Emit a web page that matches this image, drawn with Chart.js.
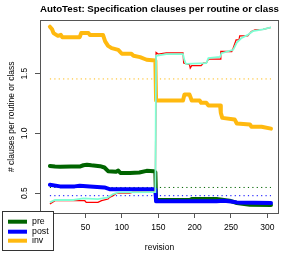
<!DOCTYPE html>
<html lang="en">
<head>
  <meta charset="UTF-8" />
  <title>AutoTest: Specification clauses per routine or class</title>
  <style>
    body { margin: 0; background: #ffffff; }
    canvas { display: block; }
  </style>
</head>
<body>
  <canvas id="chart" width="294" height="254"></canvas>

  <script src="https://cdn.jsdelivr.net/npm/chart.js"></script>
  <script>
    // values (revision, clauses per routine or class)
    const preRev = [1, 8, 15, 30, 42, 47, 52, 58, 70, 76, 81, 92, 95, 98, 111, 124, 134, 144, 146, 147, 193, 196, 230, 248, 258, 276, 305];
    const preVal = [0.727, 0.722, 0.72, 0.722, 0.722, 0.733, 0.738, 0.733, 0.725, 0.714, 0.683, 0.678, 0.688, 0.668, 0.668, 0.672, 0.686, 0.682, 0.675, 0.442, 0.442, 0.45, 0.45, 0.436, 0.417, 0.403, 0.40];

    const postRev = [1, 15, 35, 42, 56, 76, 83, 143, 146, 147, 230, 240, 250, 258, 305];
    const postVal = [0.569, 0.556, 0.556, 0.561, 0.556, 0.547, 0.533, 0.533, 0.531, 0.431, 0.431, 0.436, 0.43, 0.422, 0.417];

    const invRev = [1, 4, 6, 12, 16, 18, 42, 44, 54, 56, 74, 77, 81, 86, 95, 100, 113, 116, 125, 134, 146, 147, 184, 186, 193, 196, 207, 209, 216, 219, 235, 236, 238, 255, 258, 276, 278, 292, 305];
    const invVal = [1.894, 1.872, 1.84, 1.817, 1.825, 1.806, 1.806, 1.84, 1.84, 1.825, 1.825, 1.77, 1.733, 1.714, 1.70, 1.667, 1.667, 1.65, 1.639, 1.617, 1.61, 1.275, 1.275, 1.325, 1.325, 1.275, 1.275, 1.256, 1.256, 1.233, 1.233, 1.172, 1.13, 1.117, 1.083, 1.075, 1.056, 1.056, 1.04];

    const redRev = [1, 8, 49, 51, 67, 72, 81, 83, 88, 93, 111, 115, 143, 146, 147, 150, 161, 184, 185, 193, 194, 196, 209, 212, 216, 219, 235, 236, 251, 253, 257, 261, 262, 273, 278, 283, 294, 305];
    const redVal = [0.408, 0.436, 0.436, 0.422, 0.422, 0.436, 0.45, 0.464, 0.478, 0.50, 0.50, 0.508, 0.508, 0.519, 1.678, 1.664, 1.675, 1.675, 1.589, 1.575, 1.547, 1.567, 1.567, 1.589, 1.589, 1.622, 1.622, 1.686, 1.686, 1.714, 1.783, 1.783, 1.817, 1.817, 1.853, 1.867, 1.872, 1.889];

    const aquaRev = [1, 8, 33, 47, 67, 81, 88, 95, 143, 146, 147, 161, 184, 186, 188, 216, 219, 235, 237, 253, 258, 264, 273, 280, 294, 305];
    const aquaVal = [0.422, 0.442, 0.442, 0.456, 0.45, 0.464, 0.492, 0.506, 0.508, 0.508, 1.65, 1.664, 1.664, 1.611, 1.583, 1.589, 1.631, 1.64, 1.672, 1.70, 1.761, 1.797, 1.825, 1.856, 1.872, 1.889];

    // dotted reference levels
    const meanRev = [1, 305];
    const preMean = 0.547;
    const postMean = 0.478;
    const invMean = 1.456;

    const xTicks = [0, 50, 100, 150, 200, 250, 300];
    const yTicks = [0.5, 1.0, 1.5];

    const legendNames = ['pre', 'post', 'inv'];
    const legendColors = ['#006400', '#0000ff', '#ffb90f'];

    function pts(xs, ys) {
      return xs.map((x, i) => ({ x: x, y: ys[i] }));
    }
    function flat(v) {
      return meanRev.map(x => ({ x: x, y: v }));
    }

    Chart.defaults.font.family = "'Liberation Sans', Arial, sans-serif";
    Chart.defaults.color = '#000';

    const thick = { borderWidth: 4, pointRadius: 0, tension: 0, borderCapStyle: 'round', borderJoinStyle: 'round', fill: false };
    const dotted = { borderWidth: 1, pointRadius: 0, borderDash: [1.2, 3.2], fill: false };

    // R-style box plus legend drawn over the bottom-left corner
    const rBox = {
      id: 'rBox',
      afterDraw(chart) {
        const ctx = chart.ctx;
        const a = chart.chartArea;
        ctx.save();
        ctx.strokeStyle = '#555';
        ctx.lineWidth = 1;
        ctx.strokeRect(Math.round(a.left) + 0.5, Math.round(a.top) + 0.5,
          Math.round(a.right - a.left) - 1, Math.round(a.bottom - a.top));

        ctx.fillStyle = '#fff';
        ctx.fillRect(2, 211, 51, 40);
        ctx.strokeStyle = '#333';
        ctx.strokeRect(2.5, 211.5, 51, 39);
        const ys = [221.7, 231.7, 240.7];
        ctx.font = "8.8px 'Liberation Sans', Arial, sans-serif";
        ctx.textBaseline = 'middle';
        legendNames.forEach((name, i) => {
          ctx.strokeStyle = legendColors[i];
          ctx.lineWidth = 4;
          ctx.beginPath();
          ctx.moveTo(8, ys[i]);
          ctx.lineTo(27, ys[i]);
          ctx.stroke();
          ctx.fillStyle = '#000';
          ctx.fillText(name, 32, ys[i]);
        });
        ctx.restore();
      }
    };

    new Chart(document.getElementById('chart'), {
      type: 'line',
      data: {
        datasets: [
          Object.assign({ label: 'inv mean', data: flat(invMean), borderColor: '#ffb90f', order: 10 }, dotted),
          Object.assign({ label: 'pre mean', data: flat(preMean), borderColor: '#006400', order: 10 }, dotted),
          Object.assign({ label: 'post mean', data: flat(postMean), borderColor: '#0000ff', order: 10 }, dotted),
          Object.assign({ label: 'inv', data: pts(invRev, invVal), borderColor: '#ffb90f', order: 6 }, thick),
          Object.assign({ label: 'pre', data: pts(preRev, preVal), borderColor: '#006400', order: 5 }, thick),
          Object.assign({ label: 'post', data: pts(postRev, postVal), borderColor: '#0000ff', order: 4 }, thick),
          { label: 'red', data: pts(redRev, redVal), borderColor: '#ff0000', borderWidth: 1.3, pointRadius: 0, tension: 0, order: 2 },
          { label: 'aqua', data: pts(aquaRev, aquaVal), borderColor: '#7fffd4', borderWidth: 1.8, pointRadius: 0, tension: 0, order: 1 }
        ]
      },
      options: {
        responsive: false,
        animation: false,
        layout: { padding: { top: 0, right: 15, bottom: 0, left: 0 } },
        plugins: {
          legend: { display: false },
          tooltip: { enabled: false },
          title: {
            display: true,
            fullSize: false,
            text: 'AutoTest: Specification clauses per routine or class',
            font: { size: 9.8, weight: 'bold' },
            color: '#000',
            padding: { top: 3.8, bottom: 4.9 }
          }
        },
        scales: {
          x: {
            type: 'linear',
            min: -12.6,
            max: 316,
            afterBuildTicks: s => { s.ticks = xTicks.map(v => ({ value: v })); },
            afterFit: s => { s.height = 41; },
            grid: { drawOnChartArea: false, tickLength: 5, color: '#555' },
            border: { display: false },
            ticks: { font: { size: 8.5 }, padding: 5, maxRotation: 0, autoSkip: false },
            title: { display: true, text: 'revision', font: { size: 8.5 }, padding: { top: 0, bottom: 1 } }
          },
          y: {
            min: 0.333,
            max: 1.946,
            afterBuildTicks: s => { s.ticks = yTicks.map(v => ({ value: v })); },
            afterFit: s => { s.width = 40; },
            grid: { drawOnChartArea: false, tickLength: 5, color: '#555' },
            border: { display: false },
            ticks: {
              font: { size: 8.5 },
              padding: 4.6,
              minRotation: 90,
              maxRotation: 90,
              crossAlign: 'center',
              callback: v => v.toFixed(1)
            },
            title: { display: true, text: '# clauses per routine or class', font: { size: 8.5 }, padding: { top: 6.4, bottom: 0 } }
          }
        }
      },
      plugins: [rBox]
    });
  </script>
</body>
</html>
